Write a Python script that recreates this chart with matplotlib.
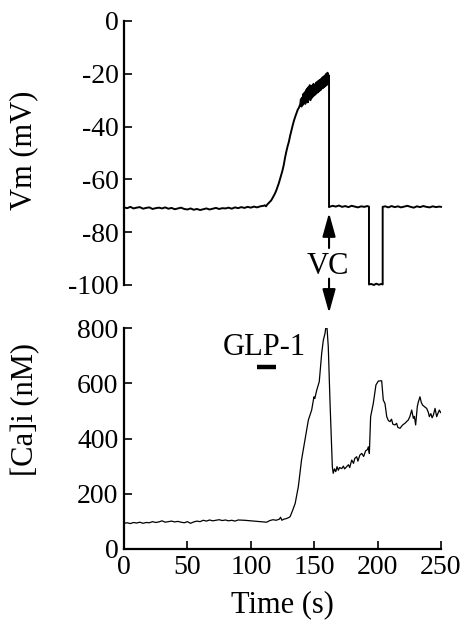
import matplotlib
matplotlib.use("Agg")
import matplotlib.pyplot as plt

plt.rcParams['font.family'] = ['Liberation Serif', 'DejaVu Serif']
plt.rcParams['axes.unicode_minus'] = False

# ---------------- data ----------------
# Membrane potential trace (top panel)
vm_time = [0, 2.5, 5, 7.5, 10, 12.5, 15, 17.5, 20, 22.5, 25, 27.5, 30, 32.5, 35, 37.5,
           40, 42.5, 45, 47.5, 50, 52.5, 55, 57.5, 60, 62.5, 65, 67.5, 70, 72.5, 75, 77.5,
           80, 82.5, 85, 87.5, 90, 92.5, 95, 97.5, 100, 102.5, 105, 107.5, 110,
           111, 112, 113, 114, 115, 116, 117, 118, 119, 120, 121, 122, 123, 124, 125, 126,
           127, 128, 129, 130, 131, 132, 133, 134, 135, 136, 137, 138, 139,
           139.5, 140, 140.5, 141, 141.5, 142, 142.5, 143, 143.5, 144, 144.5, 145, 145.5,
           146, 146.5, 147, 147.5, 148, 148.5, 149, 149.5, 150, 150.5, 151, 151.5, 152,
           152.5, 153, 153.5, 154, 154.5, 155, 155.5, 156, 156.5, 157, 157.5, 158, 158.5,
           159, 159.5, 160, 160.5, 161, 161.5, 161.7,
           161.7, 162, 164.5, 167, 169.5, 172, 174.5, 177, 179.5, 182, 184.5, 187, 189.5,
           192, 193.2,
           193.2, 195, 197, 199, 201, 203, 204,
           204, 206, 208.5, 211, 213.5, 216, 218.5, 221, 223.5, 226, 228.5, 231, 233.5,
           236, 238.5, 241, 243.5, 246, 248.5, 250]
vm_values = [-70.6, -70.9, -70.4, -71.0, -70.7, -70.5, -71.1, -70.8, -70.6, -71.2, -70.9,
             -70.7, -71.0, -70.6, -71.1, -70.8, -71.3, -71.0, -70.7, -71.2, -71.4, -71.0,
             -71.5, -71.2, -71.6, -71.3, -71.0, -71.4, -71.1, -70.8, -71.2, -70.9, -71.0,
             -70.7, -71.1, -70.6, -70.9, -70.5, -70.8, -70.4, -70.7, -70.3, -70.6, -70.2,
             -70.0,
             -69.8, -70.2, -69.5, -69.0, -68.5, -68.0, -67.2, -66.3, -65.4, -64.3, -63.0,
             -61.6, -60.0, -58.3, -56.6, -54.5, -51.8, -49.5, -47.5, -45.8, -43.5, -41.5,
             -39.6, -37.8, -36.3, -35.0, -33.6, -32.8, -31.5,
             -29.6, -32.4, -29.0, -31.8, -27.6, -31.2, -27.0, -31.4, -26.2, -30.6, -25.6,
             -30.8, -25.0, -29.6, -24.3, -30.0, -25.2, -29.2, -24.4, -28.6, -23.8, -28.2,
             -24.2, -27.8, -23.4, -27.3, -23.0, -27.0, -22.6, -26.6, -22.3, -26.2, -21.9,
             -25.6, -21.4, -25.4, -21.0, -25.0, -20.6, -24.6, -20.0, -24.2, -19.6, -23.4,
             -20.6, -21.5,
             -70.5, -70.4, -70.0, -70.3, -69.9, -70.4, -70.1, -70.5, -70.0, -70.3, -70.6,
             -70.2, -70.4, -70.1, -70.3,
             -99.8, -99.6, -100.0, -99.5, -99.9, -99.6, -99.8,
             -70.4, -70.2, -70.6, -70.1, -70.5, -70.2, -70.6, -70.3, -70.0, -70.4, -70.7,
             -70.2, -70.5, -70.1, -70.4, -70.6, -70.2, -70.5, -70.3, -70.4]

# Intracellular calcium trace (bottom panel)
ca_time = [0, 2.5, 5, 7.5, 10, 12.5, 15, 17.5, 20, 22.5, 25, 27.5, 30, 32.5, 35, 37.5,
           40, 42.5, 45, 47.5, 50, 52.5, 55, 57.5, 60, 62.5, 65, 67.5, 70, 72.5, 75, 77.5,
           80, 82.5, 85, 87.5, 90, 95, 100, 105, 110, 112.5, 115, 117.5, 120, 122.5, 123.5,
           124.5, 126, 128, 130,
           131, 133, 135, 137.5, 140, 142.7, 145.4, 148, 149.8, 150.5, 152, 154, 155.9,
           157.2, 158.5, 159.8, 161.1, 162.5, 164.3, 165, 166, 167, 168, 169, 170, 171.7,
           173, 174, 175.6, 177, 178, 179.6, 181, 182, 183.5, 184.5, 186, 187.5, 189,
           190.5, 192, 192.7, 193.5, 194.5, 196.6, 198.7, 200.6, 203.2, 204.5, 205.8,
           207.2, 208.5, 209.8, 211, 212, 213.7, 215, 216, 217.7, 219, 220, 221.6, 223,
           224.2, 225.5, 226.9, 228.2, 229, 230, 231.3, 232, 233.4, 234.5, 235.5, 237,
           238.7, 240, 240.8, 242, 243, 244, 245.3, 246.6, 247.5, 248.7, 249.7]
ca_values = [93, 95, 92, 96, 94, 97, 93, 96, 95, 99, 96, 98, 102, 97, 99, 101,
             98, 100, 97, 95, 99, 93, 98, 101, 99, 104, 101, 105, 102, 104, 106, 103,
             105, 102, 104, 101, 105, 104, 102, 100, 98, 97, 103, 106, 104, 108, 115,
             104, 108, 110, 114,
             117, 140, 165, 226, 322, 395, 467, 503, 551, 545, 575, 606, 708,
             756, 780, 822, 732, 528, 298, 274, 290, 280, 298, 285, 295, 291,
             300, 290, 298, 305, 295, 322, 310, 328, 334, 318, 340, 346, 335,
             355, 360, 370, 346, 479, 527, 594, 608, 609, 539, 527,
             479, 465, 461, 470, 452, 449, 455, 440, 437, 445, 450, 455, 462,
             467, 480, 503, 473, 480, 449, 515, 530, 551, 530, 521, 515,
             509, 495, 479, 490, 475, 485, 509, 479, 490, 503, 494]

vm_ticks = [0, -20, -40, -60, -80, -100]
vm_ticklabels = ['0', '-20', '-40', '-60', '-80', '-100']
ca_ticks = [0, 200, 400, 600, 800]
ca_ticklabels = ['0', '200', '400', '600', '800']
time_ticks = [0, 50, 100, 150, 200, 250]
time_ticklabels = ['0', '50', '100', '150', '200', '250']

glp1_start, glp1_end, glp1_level = 105, 120, 660
vc_time = 161.7

# ---------------- figure ----------------
W, H = 466, 623
fig = plt.figure(figsize=(W / 100, H / 100), dpi=100)
ax1 = fig.add_axes([124 / W, 1 - 285 / H, 317 / W, 264 / H])
ax2 = fig.add_axes([124 / W, 1 - 549 / H, 317 / W, 221 / H])

fs_tick = 20
fs_label = 22

# Top: Vm
ax1.plot(vm_time, vm_values, color='black', lw=1.4, clip_on=False)
ax1.set_xlim(0, 250)
ax1.set_ylim(-100, 0)
ax1.set_yticks(vm_ticks)
ax1.set_yticklabels(vm_ticklabels)
ax1.xaxis.set_visible(False)
for s in ['top', 'right', 'bottom']:
    ax1.spines[s].set_visible(False)
ax1.spines['left'].set_linewidth(1.6)
ax1.tick_params(axis='y', direction='in', length=5.5, width=1.2, labelsize=fs_tick, pad=4)
ax1.set_ylabel('Vm (mV)', fontsize=fs_label)
ax1.yaxis.set_label_coords(-0.27, 0.51)

# VC arrows
arrow_kw = dict(arrowstyle='-|>,head_length=0.72,head_width=0.2', color='black',
                lw=1.5, shrinkA=0, shrinkB=0, mutation_scale=20)
ax1.annotate('', xy=(vc_time, -72.7), xytext=(vc_time, -86.0),
             arrowprops=arrow_kw, annotation_clip=False)
ax1.annotate('', xy=(vc_time, -110.6), xytext=(vc_time, -97.6),
             arrowprops=arrow_kw, annotation_clip=False)
ax1.text(160.4, -95.8, 'VC', fontsize=fs_label, ha='center', va='baseline')

# Bottom: [Ca]i
ax2.plot(ca_time, ca_values, color='black', lw=0.9)
ax2.set_xlim(0, 250)
ax2.set_ylim(0, 800)
ax2.set_xticks(time_ticks)
ax2.set_xticklabels(time_ticklabels)
ax2.set_yticks(ca_ticks)
ax2.set_yticklabels(ca_ticklabels)
for s in ['top', 'right']:
    ax2.spines[s].set_visible(False)
for s in ['left', 'bottom']:
    ax2.spines[s].set_linewidth(1.6)
ax2.tick_params(axis='both', direction='in', length=5.5, width=1.2, labelsize=fs_tick, pad=4)
ax2.set_ylabel('[Ca]i (nM)', fontsize=fs_label)
ax2.yaxis.set_label_coords(-0.265, 0.63)
ax2.set_xlabel('Time (s)', fontsize=fs_label)
ax2.xaxis.set_label_coords(0.5, -0.185)

ax2.plot([glp1_start, glp1_end], [glp1_level, glp1_level], color='black', lw=3.2,
         solid_capstyle='butt')
ax2.text(111, 702, 'GLP-1', fontsize=fs_label, ha='center', va='baseline')

fig.savefig('out.png', dpi=100)
